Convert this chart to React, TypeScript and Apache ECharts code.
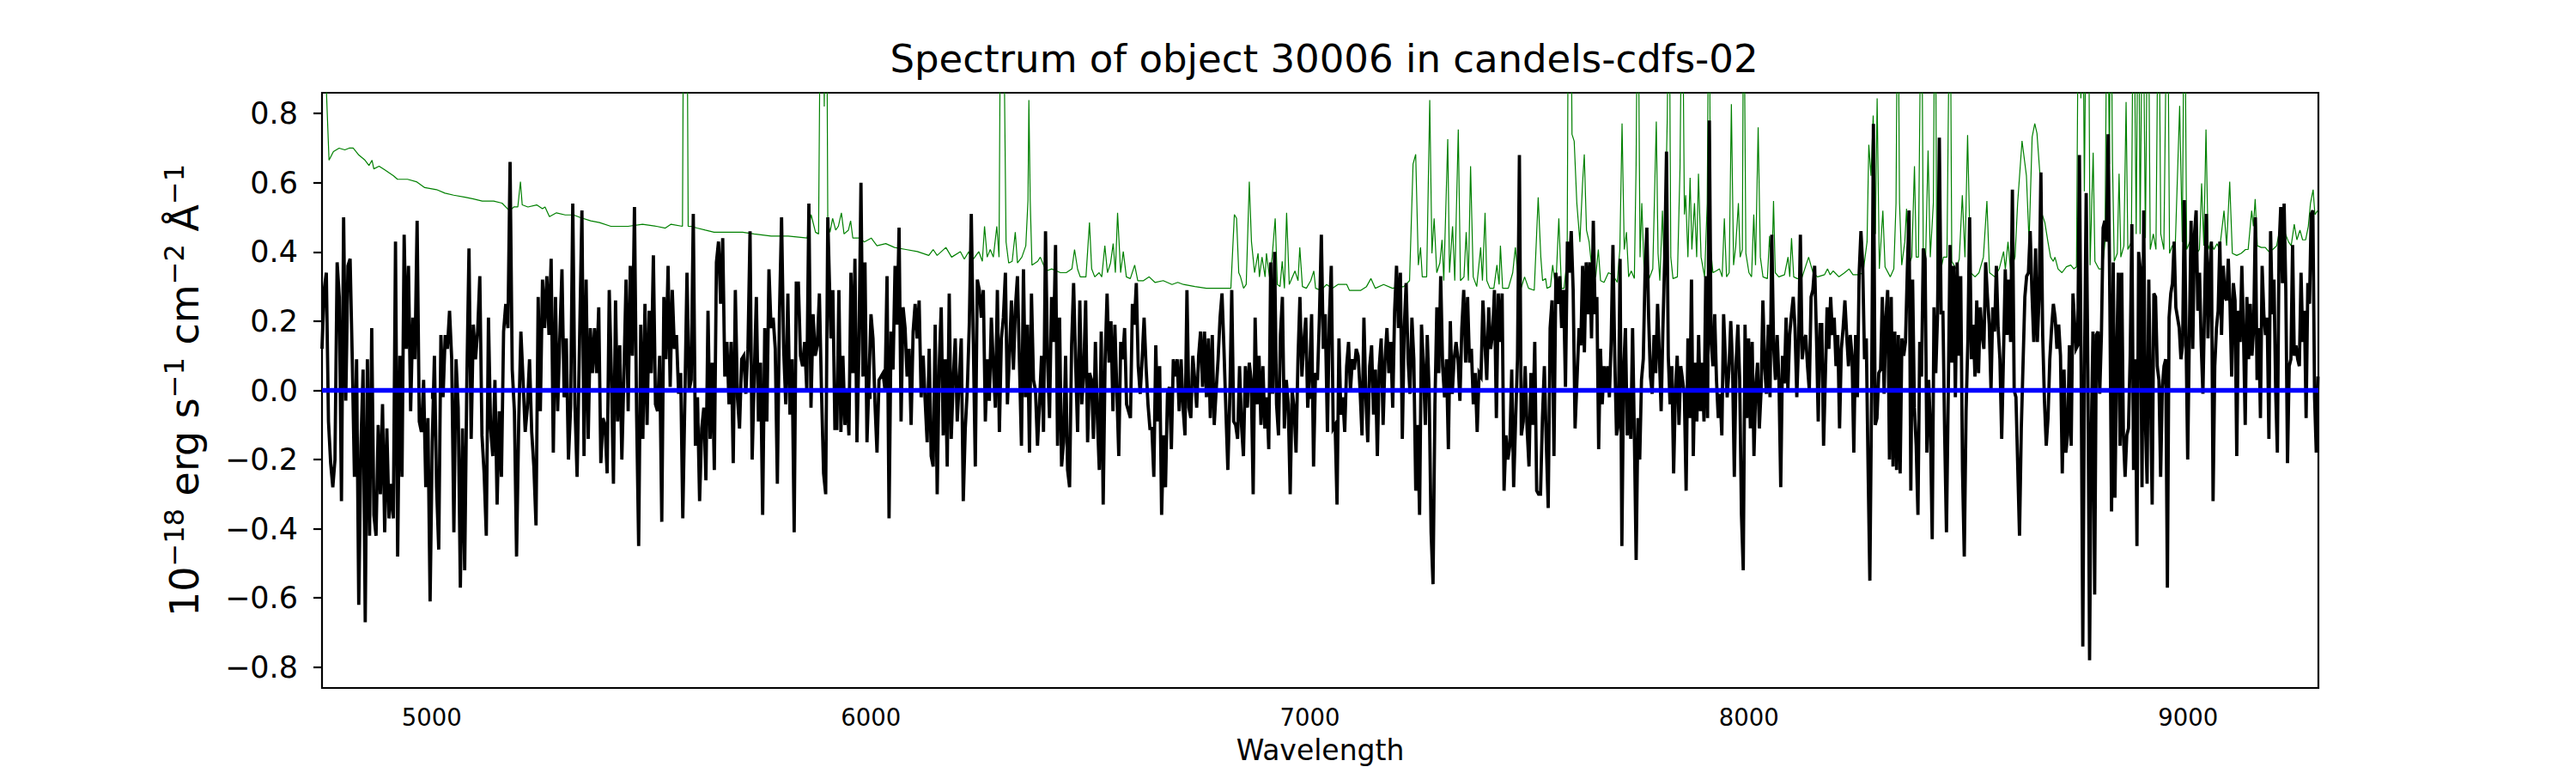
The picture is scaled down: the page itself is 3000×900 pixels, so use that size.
import React, { useEffect, useRef } from "react";
import * as echarts from "echarts";

// ---------- Data ----------
const TITLE = "Spectrum of object 30006 in candels-cdfs-02";
const X_LABEL = "Wavelength";
const X_MIN = 4750;
const X_MAX = 9297;
const Y_MIN = -0.86;
const Y_MAX = 0.86;
const X_TICKS = [5000, 6000, 7000, 8000, 9000];
const Y_TICKS = [-0.8, -0.6, -0.4, -0.2, 0.0, 0.2, 0.4, 0.6, 0.8];

// Black spectrum, read in eight wavelength segments (evenly sampled inside each)
const BLACK_SEG_START = [4750, 5342, 5909, 6476, 7040, 7613, 8178, 8745];
const BLACK_SEG_END = [5331, 5902, 6471, 7035, 7604, 8170, 8738, 9296];

const black1 = [0.12,0.29,0.34,-0.09,-0.21,-0.28,-0.20,0.37,0.27,-0.32,0.50,-0.03,0.36,0.38,0.09,-0.25,0.09,-0.62,-0.16,0.06,-0.67,0.09,-0.42,0.18,-0.36,-0.42,-0.10,-0.30,-0.04,-0.41,-0.11,-0.37,-0.27,-0.37,0.43,-0.48,0.10,-0.25,0.45,0.12,0.36,-0.06,0.21,0.09,0.49,-0.09,-0.12,0.03,-0.28,-0.08,-0.61,-0.15,0.10,-0.28,-0.46,0.16,-0.02,0.16,0.12,0.23,0.09,-0.41,0.09,-0.05,-0.57,-0.11,-0.52,0.03,0.41,-0.14,0.19,0.09,0.17,0.33,-0.13,-0.24,-0.42,0.21,-0.11,-0.19,0.03,-0.33,-0.06,-0.25,0.17,0.25,0.18,0.66,0.06,-0.06,-0.48,-0.09,0.17,0.03,-0.12,-0.05,0.09,-0.12,-0.22,-0.39,0.27,-0.06,0.32,0.18,0.33,0.16,0.38,-0.18,0.27,-0.06,0.15,0.35,-0.02,0.15,-0.20,-0.05,0.54,-0.04,-0.25];
const black2 = [0.52,-0.19,0.32,-0.14,0.18,0.05,0.18,0.05,0.24,-0.21,-0.08,-0.10,-0.24,0.29,0.05,-0.27,0.26,-0.09,0.13,-0.20,0.05,0.32,-0.06,0.36,0.10,0.53,-0.06,-0.45,0.19,-0.14,0.25,-0.10,0.23,0.05,0.39,-0.04,-0.06,0.10,-0.38,0.27,0.09,0.36,0.01,0.29,0.12,0.16,-0.01,0.05,-0.37,-0.02,0.34,0.00,0.03,0.51,-0.16,-0.02,-0.32,-0.11,-0.05,-0.26,0.23,-0.14,0.08,-0.23,0.37,0.43,0.25,0.44,0.04,0.14,-0.04,0.14,-0.21,0.29,-0.02,-0.11,0.09,0.10,-0.01,0.12,0.46,-0.20,0.04,0.27,-0.09,0.08,-0.36,0.18,-0.09,0.35,0.18,0.21,0.12,-0.27,0.22,0.50,0.12,-0.04,0.28,-0.07,0.09,-0.41,0.31,0.31,0.10,0.07,0.14,0.00,0.54,-0.05,0.22,0.10,0.13,0.28,0.00,-0.24,-0.30,0.50];
const black3 = [0.15,0.29,-0.11,-0.11,0.29,-0.12,0.10,-0.10,0.00,-0.13,0.34,0.05,0.38,-0.15,0.12,0.60,0.04,0.37,-0.15,0.03,0.22,0.15,-0.04,-0.18,0.03,0.04,0.05,0.00,0.33,-0.37,0.17,0.06,0.36,0.19,0.47,-0.09,0.24,0.18,0.04,0.12,-0.10,0.17,0.25,0.15,0.26,-0.02,0.10,-0.03,-0.15,0.12,-0.19,-0.22,0.19,-0.30,0.07,0.24,-0.13,0.09,-0.22,0.28,-0.14,0.03,0.15,-0.09,0.03,0.15,-0.32,-0.11,0.00,0.19,0.51,0.14,-0.22,0.32,0.29,0.21,0.29,-0.09,0.09,-0.03,0.21,0.07,-0.05,0.29,-0.12,0.15,0.21,0.34,-0.04,0.10,0.26,0.06,0.24,0.33,0.08,-0.16,0.35,-0.02,0.19,-0.18,0.28,0.03,0.00,-0.16,-0.04,0.10,-0.12,0.46,0.09,-0.08,0.27,0.14,0.42,-0.16,0.21,-0.22,-0.15,0.10,-0.23,-0.28,0.13,0.31,0.08,-0.12];
const black4 = [0.26,-0.04,0.05,0.26,-0.15,0.05,0.03,-0.14,0.14,-0.08,-0.23,0.17,-0.33,0.09,0.28,0.08,0.20,-0.06,0.19,0.00,-0.19,0.14,0.09,0.18,-0.04,-0.06,-0.08,0.25,0.19,0.31,0.07,-0.01,0.09,0.21,0.07,-0.04,-0.11,-0.11,-0.25,0.13,-0.09,0.07,-0.36,-0.13,-0.28,-0.01,0.01,-0.17,0.09,0.04,0.09,-0.06,0.09,-0.05,-0.13,0.29,-0.05,-0.08,0.10,0.03,-0.05,0.10,0.17,0.01,0.17,-0.02,0.15,-0.08,0.16,-0.10,0.00,0.09,0.21,0.28,0.12,-0.06,-0.23,-0.02,0.29,-0.09,-0.10,-0.14,0.07,-0.10,-0.19,0.07,-0.05,0.08,0.03,-0.30,0.21,-0.04,0.10,-0.10,0.07,-0.11,-0.02,-0.17,0.37,-0.01,0.40,-0.04,-0.13,0.16,0.27,-0.11,0.03,-0.04,-0.30,0.00,-0.05,-0.18,0.09,0.27,0.04,0.14,0.21,-0.05,0.05,0.22,-0.22,0.05,0.03,0.21,0.45,0.12,0.22];
const black5 = [-0.12,0.21,0.36,-0.11,-0.10,-0.33,0.15,-0.07,-0.02,-0.12,0.07,0.14,0.00,0.09,0.06,0.12,0.10,0.00,-0.13,0.21,-0.02,-0.15,0.07,0.13,-0.07,0.06,-0.19,0.07,0.15,-0.10,0.09,0.18,0.05,0.14,-0.05,0.23,0.36,0.18,0.34,-0.14,0.18,0.31,0.09,-0.01,0.21,0.09,-0.29,-0.10,-0.36,0.19,0.07,-0.10,0.16,-0.01,-0.41,-0.56,-0.04,0.24,0.05,0.33,0.07,-0.02,0.09,-0.17,0.20,-0.01,0.09,0.14,0.09,-0.03,0.18,0.29,0.08,0.27,0.08,0.12,-0.04,0.05,-0.12,0.05,0.04,0.26,0.14,0.03,0.24,0.12,0.16,0.29,-0.08,0.28,0.14,0.28,-0.29,-0.13,-0.20,-0.16,0.06,-0.28,-0.09,0.09,0.68,-0.13,-0.09,0.07,-0.11,-0.22,0.05,-0.10,0.14,-0.29,-0.30,-0.30,-0.08,0.07,-0.15,-0.34,0.18,0.26,-0.19,0.34,0.25,0.33,0.18,0.29,0.01,0.43,0.34,0.46,0.29,-0.11];
const black6 = [0.18,0.13,0.36,0.11,0.37,0.22,0.37,0.15,0.49,0.22,0.27,-0.17,0.12,-0.04,0.07,0.00,0.07,-0.02,0.14,0.42,0.10,-0.13,-0.10,0.38,-0.45,0.06,0.18,-0.13,0.00,-0.14,0.18,-0.13,-0.49,-0.08,-0.20,0.03,0.09,0.34,0.47,0.21,0.04,-0.01,0.16,0.05,0.25,0.10,-0.06,0.18,0.38,0.69,0.10,-0.04,0.07,-0.24,0.00,0.10,-0.10,0.07,0.03,-0.01,-0.29,0.15,-0.08,0.32,-0.19,0.08,-0.09,0.16,-0.06,0.08,-0.09,0.33,-0.08,0.78,0.14,0.07,0.22,0.03,-0.08,-0.01,-0.13,0.22,0.09,-0.02,0.06,0.20,0.07,-0.25,0.08,0.19,0.03,-0.36,-0.52,0.19,-0.08,0.15,-0.11,0.14,-0.19,0.01,0.08,-0.11,0.00,0.26,0.07,-0.01,0.19,-0.02,0.45,0.13,0.03,0.16,0.03,-0.28,0.10,0.02,0.21,0.00,0.16,0.22,0.27,0.18,-0.02,0.14,0.45,0.09,0.14,0.16,0.07,0.00,0.27,0.29,0.36,0.16,-0.09,0.19,0.19,-0.16];
const black7 = [0.24,0.12,0.27,0.16,0.21,0.07,0.16,-0.11,0.12,0.18,0.26,0.16,0.07,0.16,0.10,-0.18,0.16,-0.02,0.34,0.46,0.36,0.09,0.15,-0.22,-0.55,0.00,0.77,-0.10,-0.08,0.05,0.06,0.27,-0.01,0.21,0.29,-0.20,0.27,-0.22,0.17,-0.23,0.16,-0.24,0.15,0.10,0.14,0.34,0.52,-0.29,0.32,-0.05,-0.16,-0.36,0.14,0.04,0.41,0.38,-0.18,0.03,-0.11,-0.43,0.24,0.05,0.22,0.73,0.22,0.23,-0.13,-0.41,-0.01,0.42,0.08,0.36,-0.02,0.37,0.10,0.33,-0.23,-0.48,-0.06,0.14,0.50,0.09,0.19,0.04,0.26,0.05,0.24,0.16,0.12,0.37,0.27,0.19,0.00,0.24,0.17,0.36,0.18,0.09,-0.14,0.10,0.35,0.16,0.32,0.14,0.58,0.00,-0.02,-0.22,-0.42,-0.11,0.08,0.27,0.33,0.34,0.46,0.28,0.14,0.41,0.14,0.27,0.63,0.16,-0.03,-0.16,-0.08,0.09,0.18,0.25,0.21,0.12,0.19,0.10,-0.24,0.06,-0.18,-0.13,0.13,-0.16,0.28];
const black8 = [0.12,0.13,0.68,0.07,-0.74,0.07,0.57,0.06,-0.78,-0.13,0.17,-0.59,0.16,0.17,-0.01,0.16,0.47,0.49,0.43,0.74,0.25,-0.35,0.37,-0.31,0.09,0.34,-0.16,0.34,-0.13,-0.25,-0.13,-0.11,0.10,0.48,-0.23,0.09,-0.45,0.40,0.35,-0.28,0.52,-0.09,-0.27,0.32,0.01,-0.33,0.28,0.27,0.07,0.03,-0.25,0.01,0.07,0.09,-0.57,0.21,0.28,0.31,0.43,0.24,0.21,0.18,0.09,0.13,0.55,0.16,-0.20,0.17,0.49,0.12,0.45,0.52,0.23,0.34,0.13,-0.01,0.25,0.51,0.15,0.34,0.43,-0.32,0.07,0.18,0.23,0.43,0.16,0.36,0.27,0.26,0.38,0.25,0.04,0.31,0.26,-0.19,0.23,0.14,0.36,0.16,-0.10,0.27,0.09,0.25,0.10,0.18,0.50,0.03,0.18,-0.08,0.36,0.22,0.16,0.21,-0.14,0.46,0.22,0.32,0.00,-0.18,0.41,0.53,0.31,0.54,0.29,-0.21,0.07,0.09,0.42,0.10,0.13,0.09,0.07,0.34,0.14,0.23,-0.08,0.31,0.25,0.51,0.52,-0.02,-0.18,0.04];

// Green (noise / sky) spectrum as [wavelength, flux] pairs; spikes run above the axis top
const green1 = [[4750,1.3],[4759,0.9],[4766,0.665],[4776,0.69],[4789,0.70],[4802,0.695],[4812,0.70],[4821,0.70],[4834,0.68],[4848,0.665],[4857,0.65],[4864,0.665],[4868,0.64],[4880,0.648],[4893,0.637],[4913,0.62],[4922,0.61],[4945,0.61],[4965,0.603],[4984,0.586],[5011,0.58],[5030,0.57],[5050,0.564],[5076,0.558],[5095,0.553],[5115,0.547],[5141,0.547],[5160,0.541],[5177,0.519],[5187,0.53],[5196,0.53],[5202,0.603],[5206,0.536],[5219,0.53],[5239,0.536],[5252,0.525],[5258,0.53],[5268,0.502],[5284,0.513],[5304,0.507],[5323,0.507],[5337,0.50]];
const green2 = [[5362,0.49],[5382,0.485],[5408,0.474],[5447,0.474],[5480,0.48],[5512,0.474],[5532,0.469],[5545,0.48],[5571,0.474],[5574,1.3],[5581,1.3],[5584,0.474],[5591,0.474],[5604,0.469],[5623,0.463],[5643,0.457],[5669,0.457],[5708,0.457],[5734,0.452],[5773,0.446],[5812,0.446],[5855,0.44],[5864,0.508],[5874,0.457],[5881,0.452],[5886,1.3],[5891,1.3],[5894,0.82],[5897,1.3],[5899,1.3],[5902,0.49]];
const green3 = [[5907,0.457],[5913,0.497],[5920,0.463],[5926,0.474],[5933,0.513],[5939,0.452],[5949,0.463],[5954,0.49],[5959,0.44],[5975,0.44],[5985,0.429],[6001,0.44],[6014,0.418],[6034,0.424],[6054,0.413],[6080,0.407],[6106,0.401],[6132,0.39],[6142,0.407],[6151,0.39],[6171,0.413],[6184,0.385],[6204,0.401],[6213,0.379],[6223,0.401],[6230,0.373],[6246,0.401],[6254,0.373],[6259,0.474],[6265,0.385],[6272,0.407],[6279,0.385],[6287,0.474],[6292,0.385],[6296,1.3],[6301,1.3],[6308,0.429],[6314,0.368],[6322,0.373],[6329,0.457],[6334,0.368],[6344,0.385],[6353,0.418],[6358,0.55],[6360,0.839],[6363,0.55],[6367,0.362],[6380,0.373],[6386,0.385],[6399,0.345],[6412,0.351],[6432,0.34],[6445,0.34],[6458,0.351],[6464,0.407],[6471,0.35]];
const green4 = [[6477,0.328],[6490,0.328],[6498,0.485],[6503,0.351],[6510,0.328],[6520,0.34],[6526,0.328],[6533,0.418],[6539,0.34],[6546,0.368],[6552,0.424],[6557,0.34],[6562,0.513],[6569,0.34],[6575,0.401],[6582,0.328],[6591,0.323],[6601,0.362],[6608,0.317],[6621,0.317],[6634,0.328],[6647,0.312],[6666,0.317],[6686,0.306],[6699,0.312],[6712,0.306],[6738,0.30],[6764,0.295],[6790,0.295],[6820,0.295],[6828,0.508],[6833,0.497],[6838,0.34],[6842,0.328],[6849,0.295],[6855,0.306],[6862,0.603],[6867,0.429],[6874,0.34],[6882,0.396],[6885,0.328],[6891,0.385],[6898,0.328],[6901,0.396],[6908,0.328],[6914,0.385],[6921,0.497],[6926,0.306],[6932,0.30],[6937,0.373],[6942,0.295],[6947,0.513],[6953,0.306],[6966,0.345],[6973,0.317],[6977,0.413],[6983,0.30],[6992,0.295],[7002,0.317],[7009,0.345],[7013,0.295],[7025,0.289],[7038,0.306]];
const green5 = [[7051,0.295],[7064,0.306],[7084,0.306],[7090,0.289],[7116,0.289],[7129,0.30],[7139,0.323],[7149,0.295],[7168,0.306],[7188,0.295],[7214,0.30],[7227,0.317],[7235,0.654],[7241,0.682],[7247,0.362],[7252,0.413],[7256,0.328],[7266,0.328],[7273,0.839],[7278,0.396],[7283,0.497],[7289,0.34],[7296,0.368],[7301,0.435],[7305,0.317],[7314,0.726],[7318,0.34],[7325,0.474],[7330,0.317],[7338,0.754],[7343,0.317],[7351,0.328],[7356,0.457],[7361,0.317],[7366,0.648],[7372,0.328],[7380,0.30],[7389,0.413],[7393,0.317],[7399,0.513],[7403,0.317],[7410,0.295],[7419,0.295],[7426,0.362],[7431,0.306],[7434,0.418],[7439,0.295],[7452,0.295],[7462,0.34],[7468,0.413],[7475,0.312],[7481,0.295],[7489,0.328],[7498,0.295],[7511,0.289],[7520,0.558],[7526,0.385],[7530,0.317],[7537,0.323],[7540,0.295],[7548,0.30],[7553,0.362],[7560,0.295],[7567,0.497],[7573,0.295],[7579,0.295],[7586,0.385],[7589,1.3],[7594,1.3],[7597,0.74],[7602,0.72]];
const green6 = [[7608,0.541],[7615,0.429],[7621,0.597],[7625,0.682],[7630,0.463],[7636,0.429],[7643,0.34],[7651,0.328],[7657,0.407],[7662,0.317],[7670,0.312],[7680,0.34],[7690,0.334],[7700,0.312],[7706,0.407],[7711,0.771],[7716,0.407],[7721,0.457],[7726,0.328],[7732,0.345],[7739,0.323],[7743,0.654],[7747,1.3],[7752,0.385],[7756,0.541],[7762,0.317],[7771,0.317],[7781,0.351],[7789,0.777],[7793,0.396],[7797,0.317],[7803,0.519],[7807,0.34],[7814,0.788],[7818,1.3],[7822,0.385],[7827,0.323],[7837,0.328],[7843,0.642],[7848,1.3],[7853,0.508],[7856,0.564],[7861,0.385],[7866,0.614],[7870,0.407],[7876,0.541],[7881,0.385],[7885,0.626],[7891,0.385],[7899,0.328],[7905,0.541],[7909,1.3],[7913,0.407],[7918,0.34],[7925,0.345],[7933,0.351],[7939,0.328],[7944,0.497],[7949,0.328],[7955,0.34],[7960,0.827],[7965,0.362],[7970,0.418],[7976,0.541],[7980,0.385],[7985,0.407],[7988,1.3],[7993,0.396],[8000,0.34],[8006,0.328],[8011,0.508],[8015,0.362],[8021,0.76],[8026,0.385],[8032,0.328],[8042,0.323],[8047,0.446],[8052,0.328],[8056,0.547],[8060,0.34],[8068,0.328],[8081,0.334],[8089,0.385],[8093,0.328],[8097,0.44],[8102,0.328],[8110,0.323],[8120,0.323],[8130,0.362],[8136,0.385],[8141,0.362],[8146,0.34],[8156,0.328],[8172,0.334]];
const green7 = [[8179,0.351],[8185,0.334],[8192,0.345],[8205,0.328],[8218,0.34],[8228,0.351],[8237,0.334],[8250,0.334],[8260,0.34],[8269,0.429],[8273,0.71],[8278,0.62],[8283,0.794],[8288,0.452],[8292,0.844],[8297,0.351],[8305,0.519],[8310,0.357],[8322,0.328],[8330,0.351],[8335,0.541],[8339,1.3],[8343,0.541],[8348,0.362],[8355,0.429],[8359,0.525],[8364,0.362],[8371,0.385],[8377,0.648],[8381,0.385],[8386,0.385],[8393,1.3],[8397,0.407],[8402,0.362],[8408,0.693],[8413,0.385],[8420,0.541],[8424,1.3],[8428,0.351],[8434,0.328],[8443,0.385],[8451,0.385],[8458,1.3],[8462,0.373],[8472,0.351],[8479,0.379],[8486,0.564],[8492,0.385],[8498,0.738],[8505,0.34],[8515,0.328],[8524,0.34],[8534,0.385],[8542,0.547],[8548,0.34],[8560,0.328],[8570,0.351],[8580,0.401],[8584,0.351],[8590,0.429],[8596,0.345],[8606,0.385],[8612,0.541],[8622,0.721],[8632,0.62],[8638,0.429],[8645,0.732],[8651,0.771],[8656,0.743],[8663,0.62],[8668,0.508],[8674,0.485],[8681,0.429],[8687,0.385],[8693,0.373],[8697,0.385],[8704,0.351],[8713,0.34],[8723,0.357],[8733,0.362],[8740,0.351]];
const green8 = [[8746,0.357],[8751,1.3],[8756,0.844],[8760,1.3],[8764,0.575],[8769,1.3],[8773,1.3],[8777,0.362],[8784,0.687],[8788,0.373],[8797,0.351],[8805,0.351],[8811,0.429],[8816,1.3],[8821,0.654],[8824,1.3],[8828,0.665],[8832,0.373],[8839,0.396],[8843,0.626],[8847,0.385],[8854,0.418],[8859,0.833],[8863,0.407],[8871,0.429],[8876,1.3],[8882,0.452],[8887,1.3],[8891,0.452],[8897,1.3],[8903,0.44],[8909,1.3],[8914,0.407],[8921,0.452],[8927,0.407],[8933,1.3],[8938,0.452],[8945,0.407],[8953,1.3],[8958,0.396],[8964,0.418],[8971,0.418],[8981,0.822],[8987,0.429],[8992,1.3],[8997,0.407],[9004,0.429],[9010,0.44],[9020,0.396],[9026,0.407],[9031,0.598],[9036,0.418],[9041,0.754],[9046,0.407],[9052,0.429],[9059,0.407],[9066,0.424],[9072,0.407],[9082,0.519],[9088,0.418],[9095,0.603],[9101,0.396],[9111,0.39],[9121,0.396],[9131,0.407],[9137,0.407],[9145,0.519],[9149,0.474],[9153,0.553],[9158,0.418],[9167,0.413],[9176,0.413],[9184,0.401],[9193,0.407],[9202,0.418],[9210,0.474],[9215,0.463],[9222,0.452],[9229,0.429],[9235,0.418],[9242,0.48],[9248,0.435],[9255,0.463],[9261,0.435],[9268,0.435],[9274,0.474],[9279,0.541],[9285,0.58],[9289,0.508],[9295,0.519]];

const ZERO_LEVEL = 0;

// ---------- Chart ----------
const FONT = "DejaVu Sans";

function buildBlack(): number[][] {
  const segs = [black1, black2, black3, black4, black5, black6, black7, black8];
  const out: number[][] = [];
  segs.forEach((seg, i) => {
    const a = BLACK_SEG_START[i];
    const b = BLACK_SEG_END[i];
    seg.forEach((v, j) => {
      out.push([a + (j * (b - a)) / (seg.length - 1), v]);
    });
  });
  return out;
}

const fmtY = (v: number) => {
  const s = Math.abs(v) < 1e-9 ? "0.0" : v.toFixed(1);
  return s.replace("-", "\u2212");
};

export default function App() {
  const ref = useRef<HTMLDivElement>(null);
  useEffect(() => {
    if (!ref.current) return;
    const chart = echarts.init(ref.current, null, { renderer: "svg" });
    const green = [...green1, ...green2, ...green3, ...green4, ...green5, ...green6, ...green7, ...green8];
    const option: any = {
      animation: false,
      backgroundColor: "#ffffff",
      title: {
        text: TITLE,
        left: 1537,
        top: 41,
        textAlign: "center",
        textStyle: { fontFamily: FONT, fontSize: 45, fontWeight: "normal", color: "#000" },
      },
      grid: {
        left: 375,
        right: 300,
        top: 108,
        bottom: 99,
        show: true,
        borderColor: "#000",
        borderWidth: 2.2,
        backgroundColor: "transparent",
      },
      xAxis: {
        type: "value",
        min: X_MIN,
        max: X_MAX,
        name: X_LABEL,
        nameLocation: "middle",
        nameGap: 56,
        nameTextStyle: { fontFamily: FONT, fontSize: 33, color: "#000" },
        axisLine: { show: false },
        splitLine: { show: false },
        axisTick: {
          show: true,
          length: 10,
          lineStyle: { color: "#000", width: 2.2 },
          customValues: X_TICKS,
        },
        axisLabel: {
          fontFamily: FONT,
          fontSize: 27.5,
          color: "#000",
          margin: 20,
          customValues: X_TICKS,
          formatter: (v: number) => String(v),
        },
      },
      yAxis: {
        type: "value",
        min: Y_MIN,
        max: Y_MAX,
        name: "10{s|\u221218} erg s{s|\u22121} cm{s|\u22122} \u00C5{s|\u22121}",
        nameLocation: "middle",
        nameRotate: 90,
        nameGap: 132,
        nameTextStyle: {
          fontFamily: FONT,
          fontSize: 46,
          color: "#000",
          lineHeight: 56,
          rich: {
            s: { fontFamily: FONT, fontSize: 32, color: "#000", verticalAlign: "top", lineHeight: 32 },
          },
        },
        axisLine: { show: false },
        splitLine: { show: false },
        axisTick: {
          show: true,
          length: 10,
          lineStyle: { color: "#000", width: 2.2 },
          customValues: Y_TICKS,
        },
        axisLabel: {
          fontFamily: FONT,
          fontSize: 35,
          color: "#000",
          margin: 28,
          customValues: Y_TICKS,
          formatter: fmtY,
        },
      },
      series: [
        {
          type: "line",
          data: green,
          showSymbol: false,
          symbol: "none",
          clip: true,
          lineStyle: { color: "#008000", width: 1.2 },
          z: 2,
        },
        {
          type: "line",
          data: buildBlack(),
          showSymbol: false,
          symbol: "none",
          clip: true,
          lineStyle: { color: "#000000", width: 3.8, join: "miter" },
          z: 3,
        },
        {
          type: "line",
          data: [
            [X_MIN, ZERO_LEVEL],
            [X_MAX, ZERO_LEVEL],
          ],
          showSymbol: false,
          symbol: "none",
          lineStyle: { color: "#0000ff", width: 5.5 },
          z: 4,
        },
      ],
    };
    chart.setOption(option);
    return () => chart.dispose();
  }, []);
  return (
    <div
      ref={ref}
      style={{ position: "fixed", left: 0, top: 0, width: 3000, height: 900, background: "#fff" }}
    />
  );
}
